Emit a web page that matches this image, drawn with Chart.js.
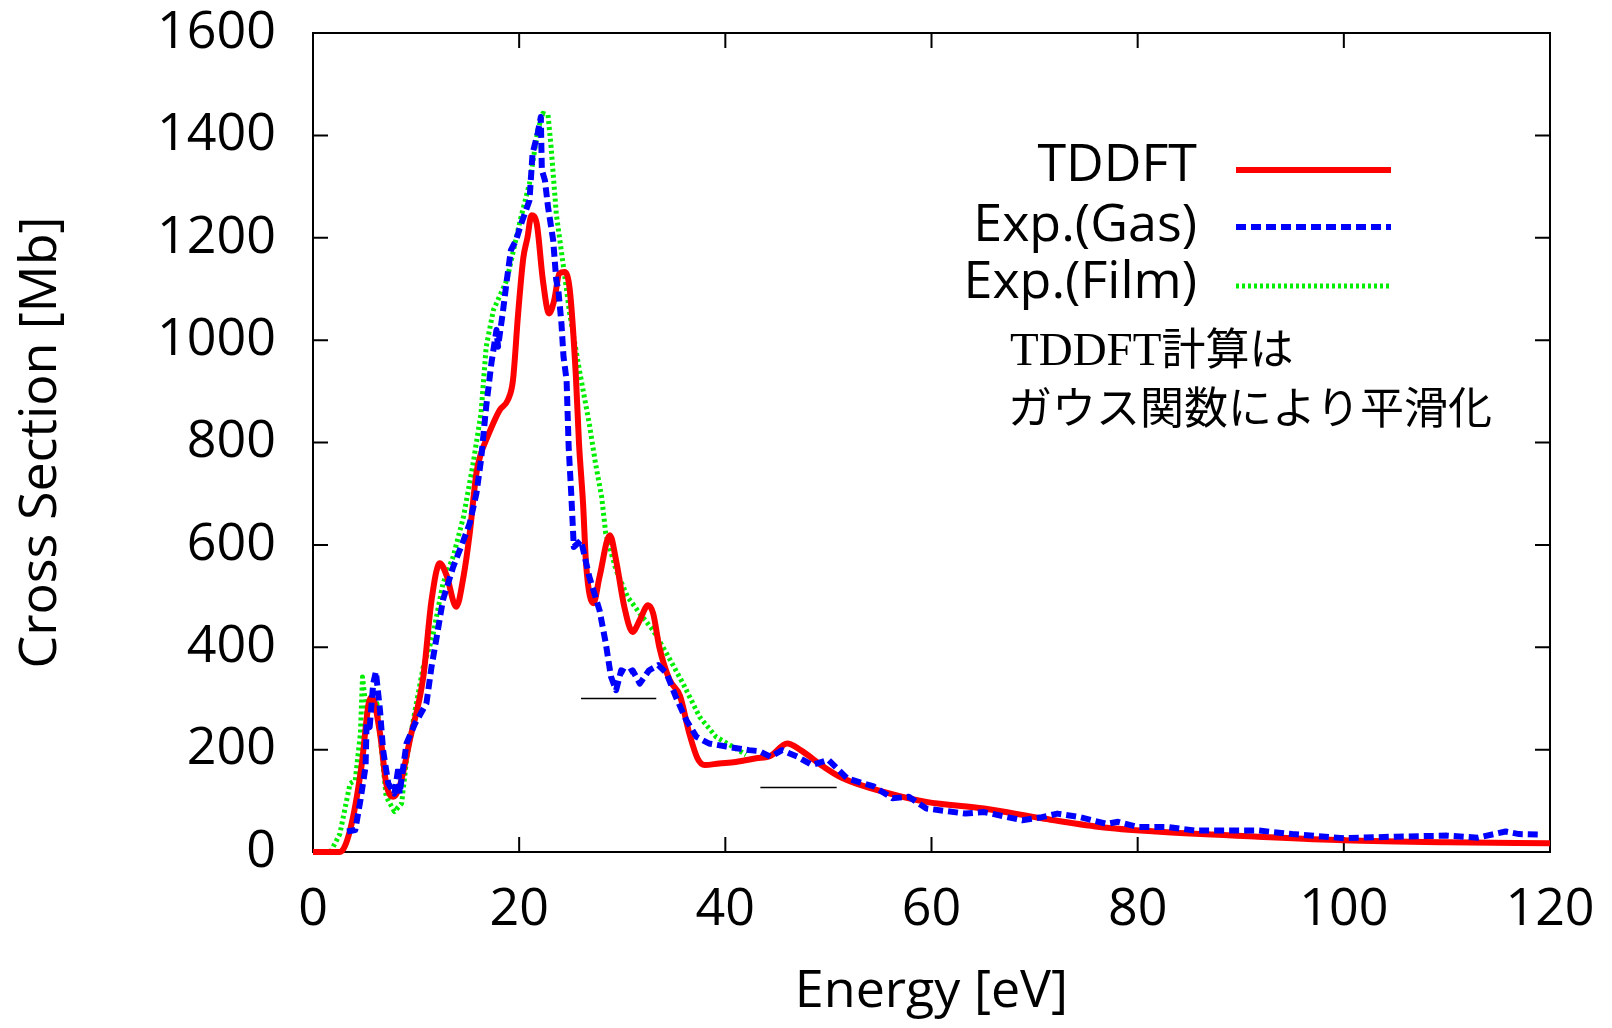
<!DOCTYPE html>
<html><head><meta charset="utf-8">
<script src="https://cdn.jsdelivr.net/npm/chart.js@4/dist/chart.umd.min.js"></script>
<style>html,body{margin:0;padding:0;background:#fff;} #c{display:block;}</style>
</head><body>
<canvas id="c" width="1612" height="1028"></canvas>
<script>
// ---- data ----
const tddftE = [0, 2.6, 3.6, 4.7, 5.4, 5.7, 6.5, 7.1, 7.8, 8.4, 9.4, 10.7, 11.5, 12.3, 12.95, 13.9, 14.6, 15.2, 15.85, 16.3, 16.8, 18.1, 18.9, 19.4, 19.9, 20.4, 20.8, 21.2, 21.7, 22.3, 22.9, 23.4, 23.9, 24.4, 24.9, 25.5, 25.8, 26.2, 26.5, 27.2, 27.8, 28.8, 29.4, 30.2, 31.0, 31.7, 32.5, 33.0, 33.6, 34.6, 35.6, 36.5, 37.3, 38.0, 39.4, 41.0, 43.0, 44.4, 46.0, 47.3, 49.5, 51.4, 55.8, 59.5, 65.1, 70.7, 76.3, 81.8, 91.7, 100, 110, 120];
const tddftV = [0, 0, 43, 167, 290, 303, 232, 134, 108, 128, 219, 342, 492, 564, 541, 479, 538, 622, 740, 779, 805, 863, 883, 922, 1052, 1160, 1200, 1244, 1228, 1117, 1052, 1078, 1130, 1133, 1100, 930, 800, 680, 560, 486, 538, 619, 570, 479, 430, 453, 482, 466, 400, 336, 305, 232, 183, 170, 173, 176, 183, 188, 212, 199, 167, 144, 115, 98, 85, 66, 49, 40, 30, 23, 19, 17];

const gasE = [3.3, 4.1, 4.6, 5.1, 5.2, 5.5, 5.84, 6.1, 6.5, 6.8, 7.3, 7.9, 8.3, 8.4, 9.07, 9.9, 11.0, 11.5, 12.0, 12.6, 13.6, 14.6, 15.2, 15.85, 16.3, 16.8, 17.3, 17.8, 17.95, 18.4, 18.8, 19.2, 19.7, 20.2, 21.0, 21.3, 21.8, 22.1, 22.2, 22.5, 22.8, 23.3, 23.6, 23.8, 24.1, 24.3, 24.6, 24.8, 25.05, 25.3, 26.0, 26.8, 27.8, 28.4, 28.9, 29.4, 29.9, 30.5, 31.0, 31.7, 32.6, 33.5, 34.3, 35.2, 36.2, 37.2, 38.4, 40.1, 42.3, 43.3, 44.4, 45.5, 47.0, 48.4, 50.0, 51.8, 54.4, 56.2, 57.8, 59.5, 63.3, 65.1, 68.8, 70.7, 72.2, 74.4, 77.0, 78.1, 80.0, 82.9, 85.5, 91.7, 95, 100, 105, 110, 113, 115.7, 117, 119];
const gasV = [40, 43, 101, 167, 251, 244, 329, 352, 277, 199, 134, 114, 167, 114, 212, 251, 290, 362, 420, 492, 557, 609, 642, 700, 766, 870, 954, 1020, 987, 1052, 1117, 1176, 1195, 1228, 1273, 1365, 1404, 1436, 1332, 1312, 1260, 1195, 1117, 1098, 1033, 968, 922, 792, 700, 596, 609, 538, 472, 408, 343, 316, 355, 349, 355, 329, 355, 365, 349, 303, 258, 225, 212, 206, 199, 197, 186, 199, 186, 170, 180, 144, 128, 105, 108, 85, 75, 78, 62, 68, 75, 68, 55, 59, 49, 49, 42, 42, 35, 27, 30, 32, 28, 40, 35, 34];

const filmE = [1.7, 2.6, 3.6, 4.1, 4.6, 4.8, 5.2, 5.7, 6.2, 6.65, 7.1, 7.9, 8.6, 9.07, 9.9, 10.7, 11.6, 12.6, 13.6, 14.6, 15.5, 16.3, 16.8, 17.5, 18.8, 20.1, 21.0, 21.8, 22.3, 22.8, 23.1, 23.6, 24.3, 24.9, 25.9, 26.8, 27.4, 28.0, 28.4, 29.4, 30.5, 31.7, 33.0, 34.3, 35.9, 37.5, 39.1, 40.7, 42.0];
const filmV = [0, 35, 134, 140, 232, 342, 271, 290, 290, 199, 108, 79, 95, 180, 277, 362, 420, 524, 577, 655, 755, 857, 987, 1059, 1117, 1234, 1306, 1410, 1443, 1440, 1377, 1247, 1143, 1052, 935, 837, 760, 694, 622, 551, 499, 466, 433, 388, 329, 264, 225, 206, 190];

// short black reference bars drawn in the figure
const bar1E = [26, 33.3];
const bar1V = [300, 300];
const bar2E = [43.4, 50.8];
const bar2V = [126, 126];

const seriesNames = ['TDDFT', 'Exp.(Gas)', 'Exp.(Film)'];
const noteLine1Latin = 'TDDFT';
const noteLine1CJK = '計算は';
const noteLine2 = 'ガウス関数により平滑化';
const xTitle = 'Energy [eV]';
const yTitle = 'Cross Section [Mb]';

const pts = (xs, ys) => xs.map((v, i) => ({x: v, y: ys[i]}));

const SANS = "'Open Sans', 'Liberation Sans', sans-serif";

const framePlugin = {
  id: 'frame',
  beforeDatasetsDraw(chart) {
    const {ctx, chartArea: a, scales: {x, y}} = chart;
    ctx.save();
    ctx.strokeStyle = '#000';
    ctx.lineWidth = 2;
    ctx.strokeRect(a.left, a.top, a.right - a.left, a.bottom - a.top);
    const tl = 15;
    ctx.beginPath();
    x.ticks.forEach(t => {
      const px = x.getPixelForValue(t.value);
      if (px <= a.left + 1 || px >= a.right - 1) return;
      ctx.moveTo(px, a.bottom); ctx.lineTo(px, a.bottom - tl);
      ctx.moveTo(px, a.top); ctx.lineTo(px, a.top + tl);
    });
    y.ticks.forEach(t => {
      const py = y.getPixelForValue(t.value);
      if (py <= a.top + 1 || py >= a.bottom - 1) return;
      ctx.moveTo(a.left, py); ctx.lineTo(a.left + tl, py);
      ctx.moveTo(a.right, py); ctx.lineTo(a.right - tl, py);
    });
    ctx.stroke();
    ctx.restore();
  }
};

const legendPlugin = {
  id: 'customLegend',
  afterDraw(chart) {
    const {ctx} = chart;
    ctx.save();
    const rowsText = [166, 226, 283];
    const rowsLine = [170, 227, 286];
    ctx.font = '52px ' + SANS;
    ctx.textAlign = 'right';
    ctx.textBaseline = 'middle';
    ctx.fillStyle = '#000';
    for (let i = 0; i < 3; i++) {
      const ds = chart.data.datasets[i];
      ctx.fillText(seriesNames[i], 1197, rowsText[i]);
      ctx.beginPath();
      ctx.strokeStyle = ds.borderColor;
      ctx.lineWidth = ds.borderWidth;
      ctx.setLineDash(ds.borderDash || []);
      ctx.moveTo(1236, rowsLine[i]);
      ctx.lineTo(1391, rowsLine[i]);
      ctx.stroke();
    }
    ctx.setLineDash([]);
    // note text
    ctx.textAlign = 'left';
    ctx.textBaseline = 'alphabetic';
    ctx.font = "47px 'Liberation Serif', serif";
    ctx.fillText(noteLine1Latin, 1010, 365);
    const w = ctx.measureText(noteLine1Latin).width;
    ctx.font = "44px 'Noto Sans CJK JP', sans-serif";
    ctx.fillText(noteLine1CJK, 1010 + w, 365);
    ctx.fillText(noteLine2, 1008, 424);
    ctx.restore();
  }
};

new Chart(document.getElementById('c'), {
  type: 'line',
  data: {
    datasets: [
      {label: seriesNames[0], data: pts(tddftE, tddftV), borderColor: '#ff0000', borderWidth: 6, borderJoinStyle: 'round', pointRadius: 0, cubicInterpolationMode: 'monotone', clip: false, order: 1},
      {label: seriesNames[1], data: pts(gasE, gasV), borderColor: '#0000ff', borderWidth: 6, borderDash: [10, 5], borderJoinStyle: 'round', pointRadius: 0, tension: 0, clip: false, order: 0},
      {label: seriesNames[2], data: pts(filmE, filmV), borderColor: '#00ee00', borderWidth: 5, borderDash: [3, 3], borderJoinStyle: 'round', pointRadius: 0, tension: 0, clip: false, order: 2},
      {label: 'bar1', data: pts(bar1E, bar1V), borderColor: '#000', borderWidth: 1.5, pointRadius: 0, order: -1},
      {label: 'bar2', data: pts(bar2E, bar2V), borderColor: '#000', borderWidth: 1.5, pointRadius: 0, order: -1}
    ]
  },
  options: {
    responsive: false,
    animation: false,
    devicePixelRatio: 1,
    layout: {padding: {top: 33, right: 62, left: 0, bottom: 0}},
    plugins: {legend: {display: false}, tooltip: {enabled: false}},
    scales: {
      x: {
        type: 'linear', min: 0, max: 120,
        grid: {display: false, drawTicks: false},
        border: {display: false},
        ticks: {stepSize: 20, color: '#000', font: {family: SANS, size: 52}, padding: 27, maxRotation: 0, callback: v => String(v)},
        title: {display: true, text: xTitle, color: '#000', font: {family: SANS, size: 52}, padding: {top: 0, bottom: 5}},
        afterFit(s) { s.height = 176; s.paddingLeft = 0; s.paddingRight = 0; }
      },
      y: {
        type: 'linear', min: 0, max: 1600,
        grid: {display: false, drawTicks: false},
        border: {display: false},
        ticks: {stepSize: 200, color: '#000', font: {family: SANS, size: 52}, padding: 37, callback: v => String(v)},
        title: {display: true, text: yTitle, color: '#000', font: {family: SANS, size: 52}, padding: {top: 10, bottom: 0}},
        afterFit(s) { s.width = 313; s.paddingTop = 0; s.paddingBottom = 0; }
      }
    }
  },
  plugins: [framePlugin, legendPlugin]
});
</script>
</body></html>
